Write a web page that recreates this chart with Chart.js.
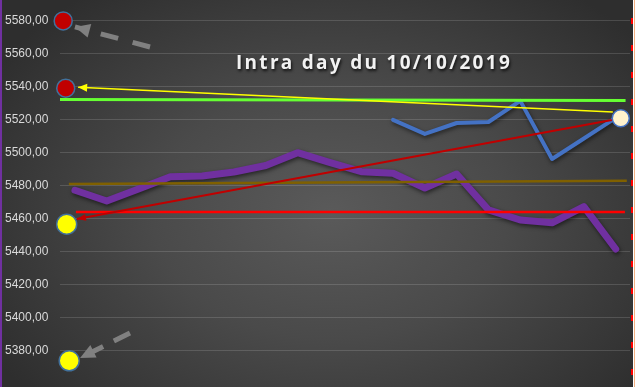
<!DOCTYPE html>
<html>
<head>
<meta charset="utf-8">
<title>Intra day du 10/10/2019</title>
<script src="https://cdn.jsdelivr.net/npm/chart.js@4.4.0/dist/chart.umd.min.js"></script>
<style>
  html, body { margin: 0; padding: 0; background: #2a2a2a; }
  #wrap {
    position: relative; width: 635px; height: 387px; overflow: hidden;
    background: radial-gradient(ellipse 62% 72% at 52% 55%, #5a5a5a 0%, #4a4a4a 45%, #2e2e2e 100%);
  }
  #wrap canvas { position: absolute; left: 0; top: 0; }
  .edge { position: absolute; top: 0; height: 387px; }
  #edge-left { left: 0; width: 2px; background: #7030a0; }
  #edge-dash { left: 631px; width: 2px; background: repeating-linear-gradient(180deg, transparent 0 18px, #ff0000 18px 24px, transparent 24px 27px); }
  #edge-white { left: 633px; width: 1px; background: #ffffff; }
  #edge-peach { left: 634px; width: 1px; background: #f4b183; }
</style>
</head>
<body>
<div id="wrap">
  <canvas id="intraChart" width="635" height="387"></canvas>
  <div class="edge" id="edge-left"></div>
  <div class="edge" id="edge-dash"></div>
  <div class="edge" id="edge-white"></div>
  <div class="edge" id="edge-peach"></div>
</div>
<script>
var chartTitle = 'Intra day du 10/10/2019';

// one x step per quote of the session
var steps = [0, 1, 2, 3, 4, 5, 6, 7, 8, 9, 10, 11, 12, 13, 14, 15, 16, 17];
var serieViolet = [5477.3, 5470.8, 5478.1, 5485.5, 5486.0, 5488.4, 5492.3, 5500.1, 5494.2,
                   5488.6, 5487.6, 5478.7, 5487.2, 5465.4, 5459.3, 5457.6, 5467.4, 5441.7];
var serieBleu = [null, null, null, null, null, null, null, null, null, null,
                 5520.0, 5511.5, 5518.1, 5518.7, 5531.5, 5496.3, 5508.7, 5521.2];

// drawn lines (x in steps, y in points)
var resistX = [-0.47, 17.31], resistY = [5532.4, 5531.8];      // green
var pivotX = [-0.19, 17.35], pivotY = [5481.1, 5483.1];        // brown
var supportX = [0.03, 17.29], supportY = [5464.1, 5464.1];     // red
var trendUpX = [16.88, 0.06], trendUpY = [5519.9, 5459.9];     // dark red arrow
var trendDownX = [16.91, 0.10], trendDownY = [5524.8, 5539.8]; // yellow arrow
var grayTopX = [2.36, 0.0], grayTopY = [5564.2, 5576.4];
var grayBotX = [1.73, 0.16], grayBotY = [5390.7, 5375.6];

// round markers
var redDotX = [-0.37, -0.29], redDotY = [5580.0, 5539.2];
var yellowDotX = [-0.26, -0.18], yellowDotY = [5456.7, 5373.9];
var lastDotX = [17.16], lastDotY = [5521.0];

// axis
var yMin = 5358, yMax = 5592.7, yStep = 20;
var xMin = -0.47, xMax = 17.45;

function pts(xs, ys) {
    var out = [];
    for (var i = 0; i < xs.length; i++) {
        if (ys[i] !== null) out.push({ x: xs[i], y: ys[i] });
    }
    return out;
}

function lineSet(xs, ys, color, width, extra) {
    var ds = {
        data: pts(xs, ys), borderColor: color, backgroundColor: color,
        borderWidth: width, pointRadius: 0, tension: 0, clip: false
    };
    return Object.assign(ds, extra || {});
}

function dotSet(xs, ys, fill, border, radius) {
    return {
        data: pts(xs, ys), showLine: false, clip: false,
        pointRadius: radius, pointBackgroundColor: fill,
        pointBorderColor: border, pointBorderWidth: 1.5
    };
}

// shadows + arrow heads + title
const decoPlugin = {
    id: 'deco',
    beforeDatasetDraw(chart, args) {
        const ds = chart.data.datasets[args.index];
        if (ds.shadow) {
            const ctx = chart.ctx;
            ctx.save();
            ctx.shadowColor = 'rgba(0,0,0,0.55)';
            ctx.shadowBlur = 4;
            ctx.shadowOffsetX = 1;
            ctx.shadowOffsetY = 2;
        }
    },
    afterDatasetDraw(chart, args) {
        const ds = chart.data.datasets[args.index];
        const ctx = chart.ctx;
        if (ds.shadow) ctx.restore();
        if (!ds.arrow) return;
        const p = args.meta.data;
        const tip = p[p.length - 1], prev = p[p.length - 2];
        const ang = Math.atan2(tip.y - prev.y, tip.x - prev.x);
        ctx.save();
        ctx.translate(tip.x, tip.y);
        ctx.rotate(ang);
        ctx.beginPath();
        ctx.moveTo(0, 0);
        ctx.lineTo(-ds.arrow[0], -ds.arrow[1] / 2);
        ctx.lineTo(-ds.arrow[0], ds.arrow[1] / 2);
        ctx.closePath();
        ctx.fillStyle = ds.borderColor;
        ctx.fill();
        ctx.restore();
    },
    afterDraw(chart) {
        const ctx = chart.ctx;
        ctx.save();
        ctx.font = 'bold 19px "Open Sans"';
        const w = ctx.measureText(chartTitle).width;
        ctx.letterSpacing = ((276 - w) / chartTitle.length).toFixed(2) + 'px';
        ctx.fillStyle = '#f2f2f2';
        ctx.textAlign = 'left';
        ctx.shadowColor = 'rgba(0,0,0,0.8)';
        ctx.shadowBlur = 3;
        ctx.shadowOffsetX = 1;
        ctx.shadowOffsetY = 2;
        ctx.fillText(chartTitle, 236, 69);
        ctx.restore();
    }
};

const ctx = document.getElementById('intraChart').getContext('2d');

const chart = new Chart(ctx, {
    type: 'line',
    data: {
        datasets: [
            dotSet(lastDotX, lastDotY, '#fff2cc', '#4472c4', 8.5),
            dotSet(redDotX, redDotY, '#c00000', '#41719c', 9),
            dotSet(yellowDotX, yellowDotY, '#ffff00', '#41719c', 10),
            lineSet(grayTopX, grayTopY, '#808080', 5, { borderDash: [18, 15], arrow: [15, 14] }),
            lineSet(grayBotX, grayBotY, '#808080', 5, { borderDash: [18, 12], arrow: [15, 14] }),
            lineSet(trendDownX, trendDownY, '#ffff00', 1.5, { arrow: [9, 8] }),
            lineSet(trendUpX, trendUpY, '#c00000', 2, { arrow: [9, 7] }),
            lineSet(supportX, supportY, '#ff0000', 2.5),
            lineSet(pivotX, pivotY, '#7f6000', 2.5),
            lineSet(resistX, resistY, '#66ff33', 3),
            lineSet(steps, serieBleu, '#4472c4', 4, { shadow: true, borderJoinStyle: 'round', borderCapStyle: 'round' }),
            lineSet(steps, serieViolet, '#7030a0', 7, { shadow: true, borderJoinStyle: 'round', borderCapStyle: 'round' })
        ]
    },
    options: {
        responsive: false,
        animation: false,
        layout: { autoPadding: false, padding: { left: 5, right: 5, top: 0, bottom: 0 } },
        plugins: {
            legend: { display: false },
            tooltip: { enabled: false },
            title: { display: false }
        },
        scales: {
            x: { type: 'linear', min: xMin, max: xMax, display: false },
            y: {
                min: yMin,
                max: yMax,
                border: { display: false },
                grid: { color: 'rgba(255,255,255,0.14)', drawTicks: false },
                ticks: {
                    stepSize: yStep,
                    includeBounds: false,
                    crossAlign: 'far',
                    padding: 0,
                    color: '#d9d9d9',
                    font: { family: 'Liberation Sans', size: 12 },
                    callback: function (v) {
                        if (v < 5370) return null;
                        return v.toFixed(2).replace('.', ',');
                    }
                },
                afterFit: function (s) {
                    s.width = 55;
                    s.paddingTop = 0;
                    s.paddingBottom = 0;
                }
            }
        }
    },
    plugins: [decoPlugin]
});
</script>
</body>
</html>
